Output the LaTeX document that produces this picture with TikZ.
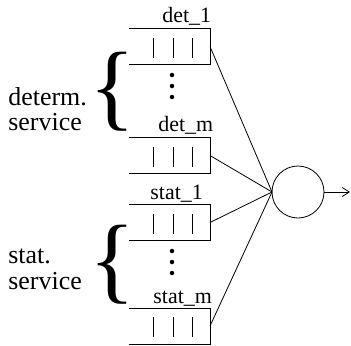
\documentclass[tikz,border=0pt]{standalone}
\usepackage{fontspec}
\setmainfont{Liberation Serif}
\usetikzlibrary{arrows.meta}
\tikzset{
  qbox/.style={minimum width=81bp,minimum height=36bp,inner sep=0pt,outer sep=0pt},
  qlabel/.style={inner sep=0pt,anchor=base west,font=\fontsize{22}{22}\selectfont},
  slabel/.style={inner sep=0pt,anchor=base west,font=\fontsize{26}{26}\selectfont},
  brace/.style={inner sep=0pt,anchor=base west,font=\fontsize{96}{96}\selectfont},
  dot/.style={circle,fill=black,inner sep=0pt,minimum size=4.5bp},
  server/.style={circle,draw,minimum size=52bp,inner sep=0pt,outer sep=0pt},
  conn/.style={line width=0.8bp},
}
\begin{document}
\begin{tikzpicture}[x=1bp,y=-1bp,line width=0.8bp]
\useasboundingbox (0,0) rectangle (351,346);
% queues
\foreach \n/\y in {q1/46.5,q2/155.5,q3/222.5,q4/326}{
  \node[qbox] (\n) at (169.5,\y) {};
  \draw (\n.north west) -- (\n.north east) -- (\n.south east) -- (\n.south west);
  \foreach \dx in {-16.5,3.5,22.5}{
    \draw ([xshift=\dx bp,yshift=-9bp]\n.north) -- ([xshift=\dx bp,yshift=-29bp]\n.north);
  }
}
% labels
\node[qlabel] (l1) at (162,22) {det\_1};
\node[qlabel] (l2) at (158,131) {det\_m};
\node[qlabel] (l3) at (150,199) {stat\_1};
\node[qlabel] (l4) at (153,303) {stat\_m};
% dots
\node[dot] (d1) at (172,75) {};
\node[dot] (d2) at (172,86) {};
\node[dot] (d3) at (172,97) {};
\node[dot] (d4) at (172,251) {};
\node[dot] (d5) at (172,262) {};
\node[dot] (d6) at (172,273) {};
% braces
\node[brace] (b1) at (89.5,118.6) {\{};
\node[brace] (b2) at (89.5,291.6) {\{};
% side labels
\node[slabel] (s1) at (8,105) {determ.};
\node[slabel] (s2) at (8,130) {service};
\node[slabel] (s3) at (8,263) {stat.};
\node[slabel] (s4) at (8,289) {service};
% server
\node[server] (srv) at (298,192) {};
\coordinate (out) at (350,192);
\foreach \n in {q1,q2,q3,q4}{
  \draw[conn] (\n.east) -- (srv.west);
}
\draw[conn,-{Straight Barb[length=7bp,width=9bp]}] (srv.east) -- (out);
\end{tikzpicture}
\end{document}
